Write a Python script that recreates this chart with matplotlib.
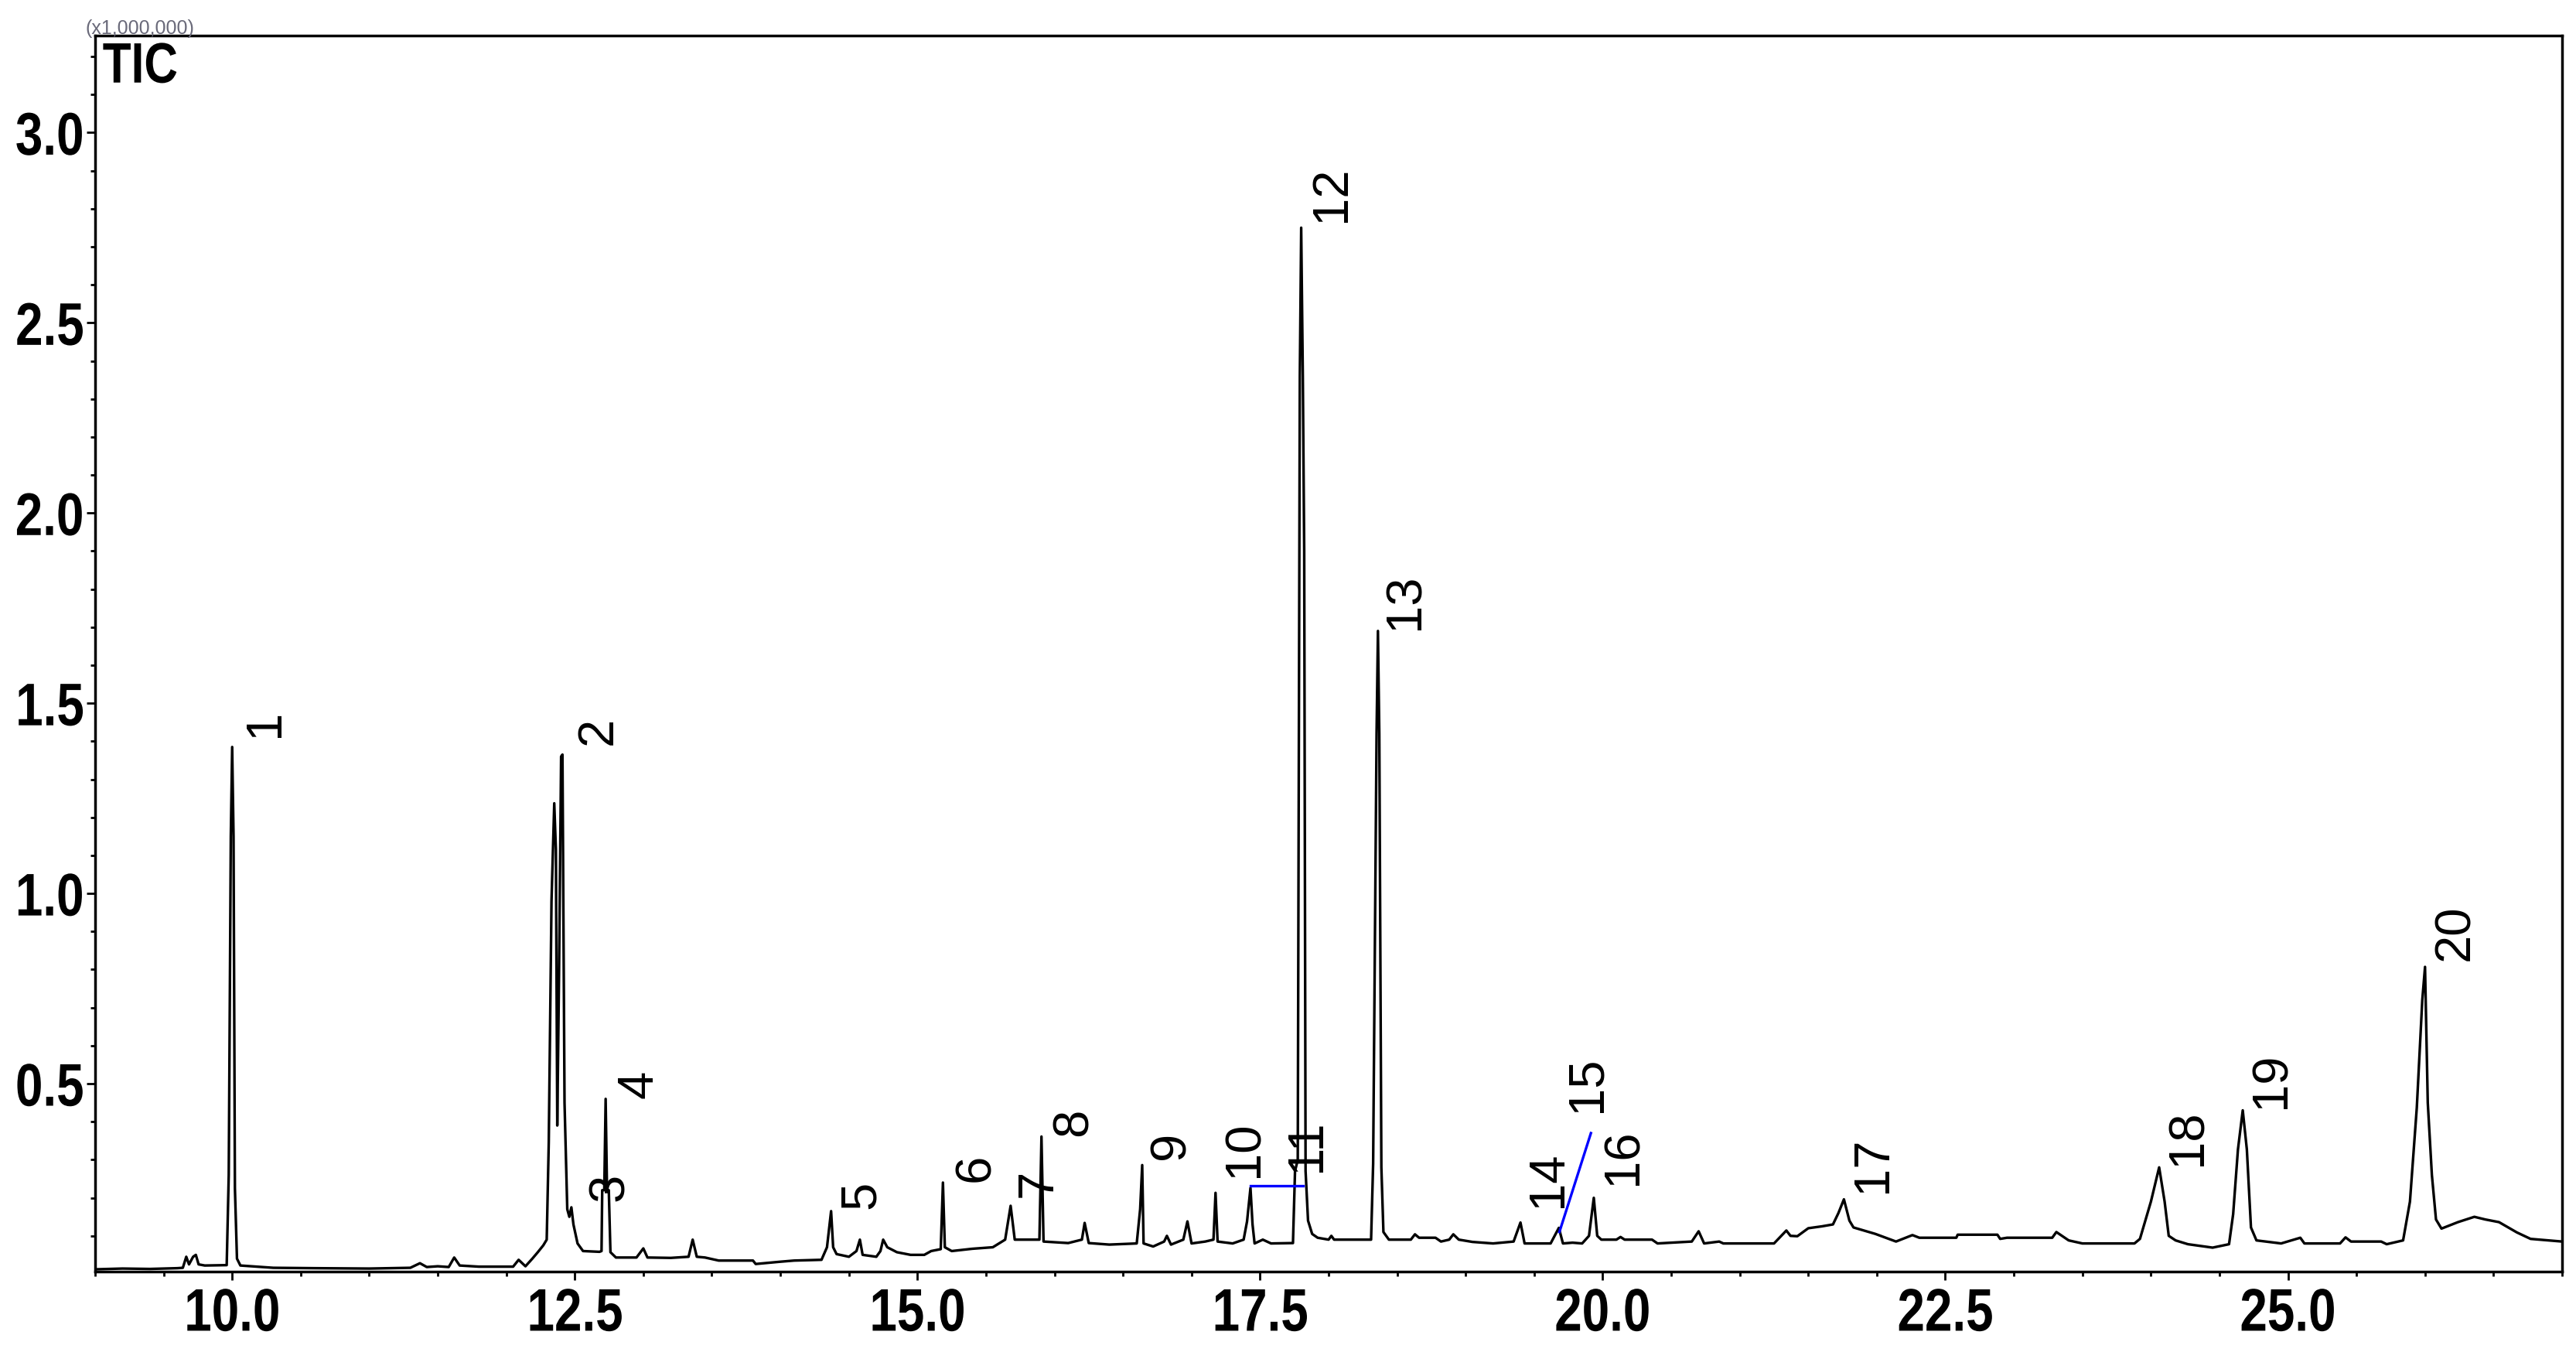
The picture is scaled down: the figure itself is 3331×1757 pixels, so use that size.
import matplotlib
matplotlib.use("Agg")
import matplotlib.pyplot as plt
from matplotlib import patheffects
from matplotlib.transforms import Affine2D
from matplotlib.ticker import MultipleLocator, FixedLocator, FormatStrFormatter

# retention time (min) and TIC (x1,000,000)
rt = [9.00, 9.20, 9.40, 9.60, 9.64, 9.665, 9.685, 9.715, 9.735, 9.755, 9.80,
      9.96, 9.975, 9.99, 10.00, 10.01, 10.02, 10.035, 10.06, 10.30, 10.60,
      11.00, 11.30, 11.37, 11.42, 11.50, 11.58, 11.62, 11.66, 11.80, 12.05,
      12.09, 12.14, 12.19, 12.23, 12.27, 12.295, 12.31, 12.33, 12.35, 12.362,
      12.372, 12.385, 12.40, 12.41, 12.425, 12.445, 12.46, 12.475, 12.49,
      12.52, 12.56, 12.68, 12.695, 12.70, 12.715, 12.725, 12.735, 12.748,
      12.76, 12.80, 12.95, 13.00, 13.03, 13.20, 13.33, 13.36, 13.39, 13.45,
      13.55, 13.80, 13.82, 14.00, 14.10, 14.30, 14.34, 14.37, 14.385, 14.41,
      14.50, 14.555, 14.58, 14.60, 14.70, 14.73, 14.75, 14.78, 14.85, 14.95,
      15.05, 15.10, 15.17, 15.186, 15.20, 15.25, 15.40, 15.55, 15.64, 15.68,
      15.71, 15.75, 15.89, 15.905, 15.92, 16.10, 16.20, 16.22, 16.25, 16.40,
      16.60, 16.625, 16.64, 16.65, 16.72, 16.80, 16.82, 16.85, 16.94, 16.97,
      17.00, 17.10, 17.16, 17.175, 17.19, 17.30, 17.38, 17.405, 17.43,
      17.445, 17.46, 17.52, 17.58, 17.74, 17.755, 17.775, 17.79, 17.80,
      17.812, 17.822, 17.832, 17.85, 17.88, 17.92, 18.00, 18.02, 18.04,
      18.29, 18.31, 18.325, 18.35, 18.36, 18.37, 18.385, 18.40, 18.44, 18.60,
      18.63, 18.66, 18.78, 18.82, 18.88, 18.91, 18.95, 19.05, 19.20, 19.35,
      19.40, 19.43, 19.55, 19.62, 19.68, 19.71, 19.78, 19.85, 19.90, 19.935,
      19.96, 19.99, 20.10, 20.13, 20.16, 20.36, 20.40, 20.55, 20.65, 20.70,
      20.74, 20.85, 20.88, 21.25, 21.34, 21.37, 21.42, 21.50, 21.60, 21.68,
      21.72, 21.76, 21.80, 21.83, 21.99, 22.14, 22.26, 22.31, 22.58, 22.59,
      22.88, 22.90, 22.95, 23.28, 23.31, 23.40, 23.50, 23.88, 23.92, 24.00,
      24.06, 24.10, 24.13, 24.18, 24.27, 24.45, 24.57, 24.60, 24.635, 24.67,
      24.70, 24.73, 24.77, 24.95, 25.09, 25.12, 25.38, 25.42, 25.46, 25.68,
      25.72, 25.84, 25.89, 25.94, 25.98, 26.00, 26.02, 26.05, 26.08, 26.12,
      26.24, 26.36, 26.44, 26.54, 26.67, 26.77, 27.00]
tic = [0.012, 0.014, 0.013, 0.015, 0.016, 0.045, 0.025, 0.045, 0.050, 0.025,
       0.022, 0.023, 0.260, 1.150, 1.385, 1.150, 0.225, 0.040, 0.022, 0.016,
       0.015, 0.014, 0.016, 0.028, 0.018, 0.020, 0.018, 0.043, 0.022, 0.019,
       0.019, 0.037, 0.020, 0.040, 0.057, 0.075, 0.090, 0.346, 0.980, 1.237,
       1.116, 0.390, 0.790, 1.360, 1.365, 0.450, 0.170, 0.150, 0.175, 0.130,
       0.080, 0.060, 0.058, 0.060, 0.220, 0.220, 0.460, 0.220, 0.220, 0.057,
       0.043, 0.043, 0.067, 0.043, 0.042, 0.045, 0.090, 0.045, 0.043, 0.035,
       0.035, 0.026, 0.032, 0.035, 0.037, 0.070, 0.165, 0.070, 0.052, 0.045,
       0.060, 0.090, 0.050, 0.045, 0.060, 0.090, 0.070, 0.057, 0.050, 0.050,
       0.060, 0.065, 0.240, 0.070, 0.060, 0.066, 0.070, 0.090, 0.179, 0.090,
       0.090, 0.090, 0.361, 0.085, 0.081, 0.090, 0.134, 0.081, 0.077, 0.080,
       0.170, 0.286, 0.080, 0.072, 0.085, 0.100, 0.077, 0.090, 0.138, 0.080,
       0.085, 0.090, 0.213, 0.085, 0.080, 0.090, 0.138, 0.226, 0.130, 0.080,
       0.090, 0.080, 0.081, 0.270, 0.300, 2.360, 2.750, 2.360, 1.900, 0.270,
       0.140, 0.105, 0.095, 0.090, 0.100, 0.090, 0.090, 0.090, 0.290, 1.420,
       1.690, 1.420, 0.280, 0.110, 0.090, 0.090, 0.104, 0.095, 0.095, 0.085,
       0.090, 0.104, 0.090, 0.084, 0.080, 0.085, 0.135, 0.080, 0.080, 0.080,
       0.121, 0.080, 0.082, 0.080, 0.100, 0.200, 0.100, 0.090, 0.090, 0.097,
       0.090, 0.090, 0.080, 0.083, 0.085, 0.112, 0.080, 0.085, 0.080, 0.080,
       0.114, 0.100, 0.099, 0.120, 0.125, 0.130, 0.160, 0.196, 0.140, 0.122,
       0.105, 0.085, 0.102, 0.095, 0.095, 0.103, 0.103, 0.092, 0.095, 0.095,
       0.110, 0.088, 0.080, 0.080, 0.092, 0.190, 0.280, 0.190, 0.100, 0.088,
       0.078, 0.069, 0.078, 0.157, 0.327, 0.430, 0.327, 0.122, 0.088, 0.080,
       0.095, 0.080, 0.080, 0.096, 0.085, 0.085, 0.078, 0.088, 0.190, 0.437,
       0.720, 0.807, 0.450, 0.260, 0.143, 0.119, 0.136, 0.150, 0.143, 0.136,
       0.109, 0.092, 0.085]

# peak numbers and where their labels sit (rt, TIC)
peak_ids = [str(i) for i in range(1, 21)]
label_rt = [10.24, 12.67, 12.76, 12.97, 14.59, 15.43, 15.88, 16.14, 16.85, 17.39,
            17.84, 18.02, 18.56, 19.60, 19.89, 20.15, 21.97, 24.27, 24.88, 26.22]
label_tic = [1.45, 1.43, 0.23, 0.50, 0.21, 0.28, 0.24, 0.40, 0.34, 0.33,
             0.34, 2.84, 1.77, 0.25, 0.50, 0.31, 0.29, 0.36, 0.51, 0.90]

# blue leader lines (peak 10 -> 11, peak 15)
leader_rt = [[17.43, 17.815], [19.684, 19.914]]
leader_tic = [[0.232, 0.232], [0.11, 0.37]]


class Squeeze(patheffects.AbstractPathEffect):
    # narrow the glyphs horizontally (the original uses a condensed Arial)
    def __init__(self, sx=0.82, anchor="center"):
        super().__init__()
        self.sx = sx
        self.anchor = anchor

    def draw_path(self, renderer, gc, tpath, affine, rgbFace=None):
        ext = tpath.get_extents()
        px = {"left": ext.x0, "right": ext.x1}.get(self.anchor, (ext.x0 + ext.x1) / 2)
        cx, cy = affine.transform((px, 0))
        squeeze = Affine2D().translate(-cx, -cy).scale(self.sx, 1).translate(cx, cy)
        renderer.draw_path(gc, tpath, affine + squeeze, rgbFace)


W, H = 3331, 1758
fig = plt.figure(figsize=(W / 100, H / 100), dpi=100)
ax = fig.add_axes([123 / W, 1 - 1645 / H, (3313 - 123) / W, (1645 - 47) / H])

ax.plot(rt, tic, color="black", lw=2.4)
for xs, ys in zip(leader_rt, leader_tic):
    ax.plot(xs, ys, color="#0000ff", lw=2.4)

for lab, x, y in zip(peak_ids, label_rt, label_tic):
    ax.text(x, y, lab, rotation=90, ha="center", va="center",
            fontsize=47, family="Liberation Sans")

ax.set_xlim(9.0, 27.0)
ax.set_ylim(0.006, 3.255)

ax.xaxis.set_major_locator(MultipleLocator(2.5))
ax.xaxis.set_minor_locator(MultipleLocator(0.5))
ax.xaxis.set_major_formatter(FormatStrFormatter("%.1f"))
ax.yaxis.set_major_locator(FixedLocator([0.5, 1.0, 1.5, 2.0, 2.5, 3.0]))
ax.yaxis.set_minor_locator(MultipleLocator(0.1))
ax.yaxis.set_major_formatter(FormatStrFormatter("%.1f"))

ax.tick_params(which="major", direction="out", length=8, width=2, color="black")
ax.tick_params(which="minor", direction="out", length=4, width=2, color="black")
ax.tick_params(axis="x", which="major", pad=6)
ax.tick_params(axis="y", which="major", pad=2)
for lab in ax.get_xticklabels():
    lab.set_fontfamily("Liberation Sans")
    lab.set_fontweight("bold")
    lab.set_fontsize(56)
    lab.set_path_effects([Squeeze(0.82, "center")])
for lab in ax.get_yticklabels():
    lab.set_fontfamily("Liberation Sans")
    lab.set_fontweight("bold")
    lab.set_fontsize(56)
    lab.set_path_effects([Squeeze(0.82, "right")])

for sp in ax.spines.values():
    sp.set_linewidth(2.5)
    sp.set_color("black")

ax.text(0.003, 0.962, "TIC", transform=ax.transAxes, va="baseline", ha="left",
        fontsize=53, fontweight="bold", family="Liberation Sans",
        path_effects=[Squeeze(0.82, "left")])
fig.text(110 / W, 1 - 44 / H, "(x1,000,000)", va="baseline", ha="left",
         fontsize=18, color="#6a6a7a", family="Liberation Sans")

fig.savefig("out.png", dpi=100)
